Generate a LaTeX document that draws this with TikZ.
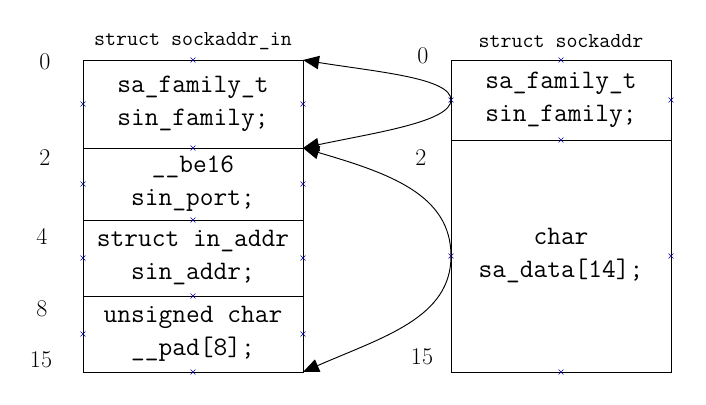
\documentclass[tikz,border=0pt]{standalone}
\usetikzlibrary{positioning,arrows.meta}

\tikzset{
  field/.style={draw, line width=0.7pt, minimum width=165pt, inner sep=0pt,
    outer sep=0pt, align=center, font=\fontsize{20}{24.75}\selectfont\ttfamily},
  structtitle/.style={font=\fontsize{16}{18}\selectfont\ttfamily},
  bytepos/.style={font=\fontsize{18}{20}\selectfont},
  jointmark/.style={blue!60!black, line width=0.4pt},
  link/.style={line width=0.7pt, -{Triangle[length=12pt,width=10pt]}},
}

\begin{document}
\begin{tikzpicture}[x=0.75pt, y=-0.75pt]
    \useasboundingbox (0,0) rectangle (706,404);

    % struct sockaddr_in
    \node[structtitle] (tin) at (193,41) {struct sockaddr\_in};
    \node[field, minimum height=66pt, anchor=north west] (in0) at (83,60) {sa\_family\_t\\sin\_family;};
    \node[field, minimum height=54pt, below=0pt of in0] (in2) {\_\_be16\\sin\_port;};
    \node[field, minimum height=57pt, below=0pt of in2] (in4) {struct in\_addr\\sin\_addr;};
    \node[field, minimum height=57pt, below=0pt of in4] (in8) {unsigned char\\\_\_pad[8];};

    % struct sockaddr
    \node[structtitle] (tsa) at (561,41) {struct sockaddr};
    \node[field, minimum height=60pt, anchor=north west] (sa0) at (451,60) {sa\_family\_t\\sin\_family;};
    \node[field, minimum height=174pt, below=0pt of sa0] (sa2) {char\\sa\_data[14];};

    % Byte offsets
    \node[bytepos] (l0) at (45,62) {0};
    \node[bytepos] (l2) at (45,158) {2};
    \node[bytepos] (l4) at (42,236) {4};
    \node[bytepos] (l8) at (42,309) {8};
    \node[bytepos] (l15) at (41,360) {15};
    \node[bytepos] (r0) at (423,56) {0};
    \node[bytepos] (r2) at (421,158) {2};
    \node[bytepos] (r15) at (422,357) {15};

    % Connection points
    \foreach \a in {in0.north, in0.west, in0.east, in2.north, in2.west, in2.east,
                    in4.north, in4.west, in4.east, in8.north, in8.west, in8.east, in8.south,
                    sa0.north, sa0.west, sa0.east, sa2.north, sa2.west, sa2.east, sa2.south}
        \draw[jointmark] (\a) +(-1.8pt,-1.8pt) -- +(1.8pt,1.8pt) +(-1.8pt,1.8pt) -- +(1.8pt,-1.8pt);

    % Mapping arrows
    \draw[link] (sa0.west) .. controls +(0,-22) and +(75,12) .. (in0.north east);
    \draw[link] (sa0.west) .. controls +(0,22) and +(70,-15) .. (in2.north east);
    \draw[link] (sa2.west) .. controls +(0,-62) and +(85,25) .. (in2.north east);
    \draw[link] (sa2.west) .. controls +(0,62) and +(80,-35) .. (in8.south east);

\end{tikzpicture}
\end{document}
